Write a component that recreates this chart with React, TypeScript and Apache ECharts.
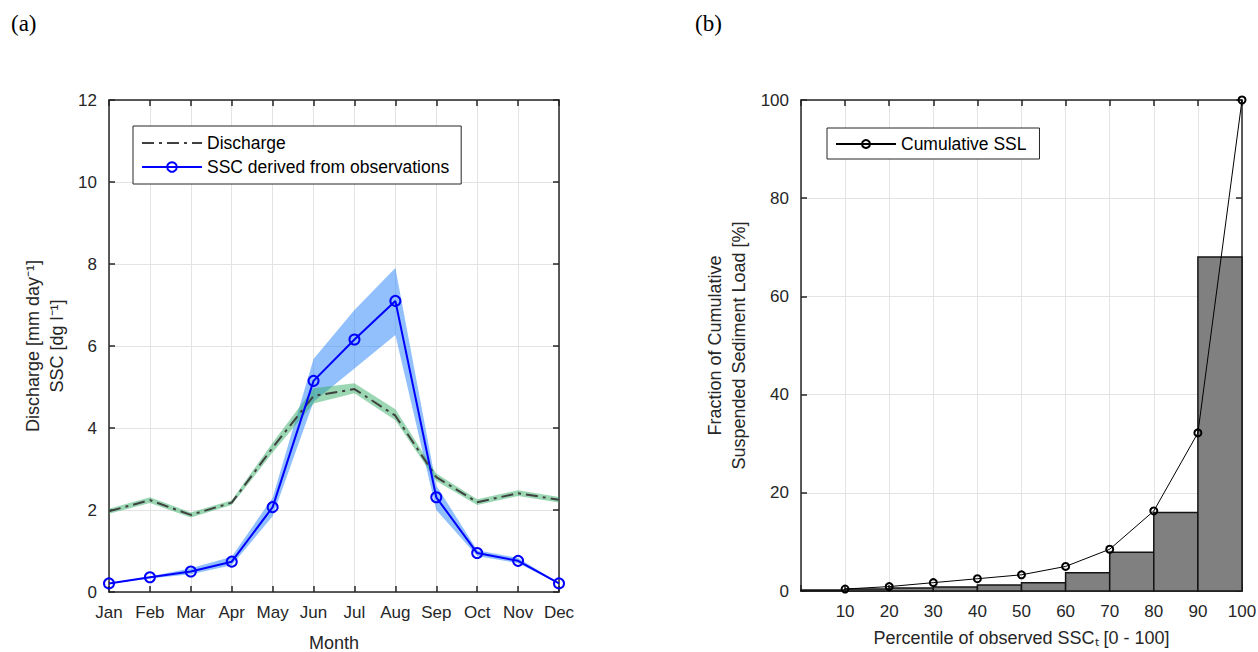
import React, { useEffect, useRef } from 'react';
import * as echarts from 'echarts';

// ---- Panel (a) data ----
const months = ['Jan', 'Feb', 'Mar', 'Apr', 'May', 'Jun', 'Jul', 'Aug', 'Sep', 'Oct', 'Nov', 'Dec'];
const discharge = [1.97, 2.24, 1.88, 2.18, 3.52, 4.78, 4.95, 4.3, 2.8, 2.19, 2.41, 2.25];
const dischargeLow = [1.91, 2.17, 1.82, 2.12, 3.4, 4.6, 4.85, 4.19, 2.71, 2.12, 2.34, 2.18];
const dischargeHigh = [2.03, 2.31, 1.94, 2.24, 3.64, 4.97, 5.09, 4.46, 2.89, 2.26, 2.48, 2.32];
const ssc = [0.21, 0.36, 0.5, 0.74, 2.07, 5.15, 6.16, 7.1, 2.31, 0.95, 0.76, 0.21];
const sscLow = [0.2, 0.33, 0.43, 0.65, 1.85, 4.64, 5.45, 6.27, 2.0, 0.88, 0.7, 0.2];
const sscHigh = [0.22, 0.38, 0.58, 0.86, 2.3, 5.68, 6.88, 7.9, 2.6, 1.02, 0.83, 0.22];

// ---- Panel (b) data ----
const percentiles = [10, 20, 30, 40, 50, 60, 70, 80, 90, 100];
const cumulativeSSL = [0.4, 0.9, 1.7, 2.5, 3.3, 5.0, 8.5, 16.3, 32.2, 100];
const binFraction = [0.2, 0.4, 0.6, 0.8, 1.2, 1.7, 3.7, 7.9, 16.0, 68];
const binWidth = 10;

const FONT = '"Liberation Sans", Arial, Helvetica, sans-serif';
const AX = '#262626';
const GRIDC = '#e3e3e3';

export default function App() {
  const ref = useRef<HTMLDivElement>(null);
  useEffect(() => {
    if (!ref.current) return;
    const chart = echarts.init(ref.current, null, { renderer: 'svg' });

    const axisLine = { show: true, onZero: false, lineStyle: { color: AX, width: 1.5 } };
    const tickIn = { show: true, inside: true, length: 6, lineStyle: { color: AX, width: 1.5 } };
    const labelStyle = { color: AX, fontSize: 17, fontFamily: FONT };
    const split = { show: true, lineStyle: { color: GRIDC, width: 1 } };
    const nameStyle = { color: AX, fontSize: 18, fontFamily: FONT };

    const diffs = (hi: number[], lo: number[]) => hi.map((h, i) => +(h - lo[i]).toFixed(3));

    const option: any = {
      animation: false,
      backgroundColor: '#fff',
      textStyle: { fontFamily: FONT },
      graphic: [
        { type: 'text', left: 11, top: 12, style: { text: '(a)', font: '23px "Liberation Serif", "Times New Roman", serif', fill: '#000' } },
        { type: 'text', left: 695, top: 12, style: { text: '(b)', font: '23px "Liberation Serif", "Times New Roman", serif', fill: '#000' } },
      ],
      legend: [
        {
          data: [
            { name: 'Discharge', itemStyle: { opacity: 0 } },
            'SSC derived from observations',
          ],
          orient: 'vertical',
          left: 133,
          top: 126,
          itemWidth: 60,
          itemHeight: 12,
          itemGap: 6,
          padding: [8, 12, 8, 8],
          backgroundColor: '#fff',
          borderColor: AX,
          borderWidth: 1,
          selectedMode: false,
          textStyle: { fontSize: 17.5, color: '#000', fontFamily: FONT },
        },
        {
          data: ['Cumulative SSL'],
          orient: 'vertical',
          left: 827,
          top: 128,
          itemWidth: 60,
          itemHeight: 10,
          padding: [7, 13, 6, 8],
          backgroundColor: '#fff',
          borderColor: AX,
          borderWidth: 1,
          selectedMode: false,
          textStyle: { fontSize: 17.5, color: '#000', fontFamily: FONT },
        },
      ],
      grid: [
        { left: 109, top: 100, width: 450, height: 492, outerBoundsMode: 'none', containLabel: false },
        { left: 801, top: 100, width: 441, height: 491, outerBoundsMode: 'none', containLabel: false },
      ],
      xAxis: [
        {
          type: 'category', gridIndex: 0, data: months, boundaryGap: false,
          axisLine, axisTick: { ...tickIn, interval: 0 }, splitLine: { ...split, interval: 0 },
          axisLabel: { ...labelStyle, margin: 12, interval: 0 },
          name: 'Month', nameLocation: 'middle', nameGap: 42,
          nameTextStyle: nameStyle,
        },
        {
          type: 'category', gridIndex: 0, data: months, boundaryGap: false, position: 'top',
          axisLine, axisTick: { ...tickIn, interval: 0 }, axisLabel: { show: false }, splitLine: { show: false },
        },
        {
          type: 'value', gridIndex: 1, min: 0, max: 100, interval: 10,
          axisLine, axisTick: tickIn, splitLine: split,
          axisLabel: { ...labelStyle, margin: 12, formatter: (v: number) => (v === 0 ? '' : String(v)) },
          name: 'Percentile of observed SSCₜ [0 - 100]', nameLocation: 'middle', nameGap: 38,
          nameTextStyle: nameStyle,
        },
        {
          type: 'value', gridIndex: 1, min: 0, max: 100, interval: 10, position: 'top',
          axisLine, axisTick: tickIn, axisLabel: { show: false }, splitLine: { show: false },
        },
      ],
      yAxis: [
        {
          type: 'value', gridIndex: 0, min: 0, max: 12, interval: 2,
          axisLine, axisTick: tickIn, splitLine: split,
          axisLabel: { ...labelStyle, margin: 12 },
          name: 'Discharge [mm day⁻¹]\nSSC [dg l⁻¹]', nameLocation: 'middle', nameGap: 40,
          nameRotate: 90,
          nameTextStyle: { ...nameStyle, lineHeight: 24, align: 'center' },
        },
        {
          type: 'value', gridIndex: 0, min: 0, max: 12, interval: 2, position: 'right',
          axisLine, axisTick: tickIn, axisLabel: { show: false }, splitLine: { show: false },
        },
        {
          type: 'value', gridIndex: 1, min: 0, max: 100, interval: 20,
          axisLine, axisTick: tickIn, splitLine: split,
          axisLabel: { ...labelStyle, margin: 12 },
          name: 'Fraction of Cumulative\nSuspended Sediment Load [%]', nameLocation: 'middle', nameGap: 50,
          nameRotate: 90,
          nameTextStyle: { ...nameStyle, lineHeight: 24, align: 'center' },
        },
        {
          type: 'value', gridIndex: 1, min: 0, max: 100, interval: 20, position: 'right',
          axisLine, axisTick: tickIn, axisLabel: { show: false }, splitLine: { show: false },
        },
      ],
      series: [
        // SSC uncertainty band
        {
          name: 'sscLow', type: 'line', xAxisIndex: 0, yAxisIndex: 0, stack: 'sscBand',
          data: sscLow, symbol: 'none', lineStyle: { opacity: 0 }, silent: true,
        },
        {
          name: 'sscBand', type: 'line', xAxisIndex: 0, yAxisIndex: 0, stack: 'sscBand',
          data: diffs(sscHigh, sscLow), symbol: 'none', lineStyle: { opacity: 0 },
          areaStyle: { color: 'rgba(45,135,250,0.75)' }, silent: true,
        },
        // Discharge uncertainty band
        {
          name: 'qLow', type: 'line', xAxisIndex: 0, yAxisIndex: 0, stack: 'qBand',
          data: dischargeLow, symbol: 'none', lineStyle: { opacity: 0 }, silent: true,
        },
        {
          name: 'qBand', type: 'line', xAxisIndex: 0, yAxisIndex: 0, stack: 'qBand',
          data: diffs(dischargeHigh, dischargeLow), symbol: 'none', lineStyle: { opacity: 0 },
          areaStyle: { color: 'rgba(45,170,95,0.68)' }, silent: true,
        },
        {
          name: 'Discharge', type: 'line', xAxisIndex: 0, yAxisIndex: 0,
          data: discharge, symbol: 'none',
          lineStyle: { color: '#404040', width: 2, type: [12, 5, 3, 5] },
          itemStyle: { color: '#404040' },
          z: 4,
        },
        {
          name: 'SSC derived from observations', type: 'line', xAxisIndex: 0, yAxisIndex: 0,
          data: ssc, symbol: 'circle', symbolSize: 10,
          lineStyle: { color: '#0000ff', width: 2 },
          itemStyle: { color: 'rgba(255,255,255,0)', borderColor: '#0000ff', borderWidth: 2 },
          z: 5,
        },
        // Panel (b) histogram
        {
          name: 'bins', type: 'custom', xAxisIndex: 2, yAxisIndex: 2,
          data: percentiles.map((p, i) => [p - binWidth, p, binFraction[i]]),
          encode: { x: [0, 1], y: 2 },
          renderItem: (params: any, api: any) => {
            const s = api.coord([api.value(0), 0]);
            const e = api.coord([api.value(1), api.value(2)]);
            return {
              type: 'rect',
              shape: { x: s[0], y: e[1], width: e[0] - s[0], height: s[1] - e[1] },
              style: { fill: '#808080', stroke: '#141414', lineWidth: 1.5 },
            };
          },
          silent: true,
          z: 2,
        },
        {
          name: 'Cumulative SSL', type: 'line', xAxisIndex: 2, yAxisIndex: 2,
          data: percentiles.map((p, i) => [p, cumulativeSSL[i]]),
          symbol: 'circle', symbolSize: 7,
          lineStyle: { color: '#000', width: 1 },
          itemStyle: { color: 'rgba(255,255,255,0)', borderColor: '#000', borderWidth: 2 },
          z: 5,
        },
      ],
    };
    chart.setOption(option);
    return () => chart.dispose();
  }, []);

  return (
    <div
      ref={ref}
      style={{ position: 'fixed', left: 0, top: 0, width: 1258, height: 652, background: '#fff' }}
    />
  );
}
